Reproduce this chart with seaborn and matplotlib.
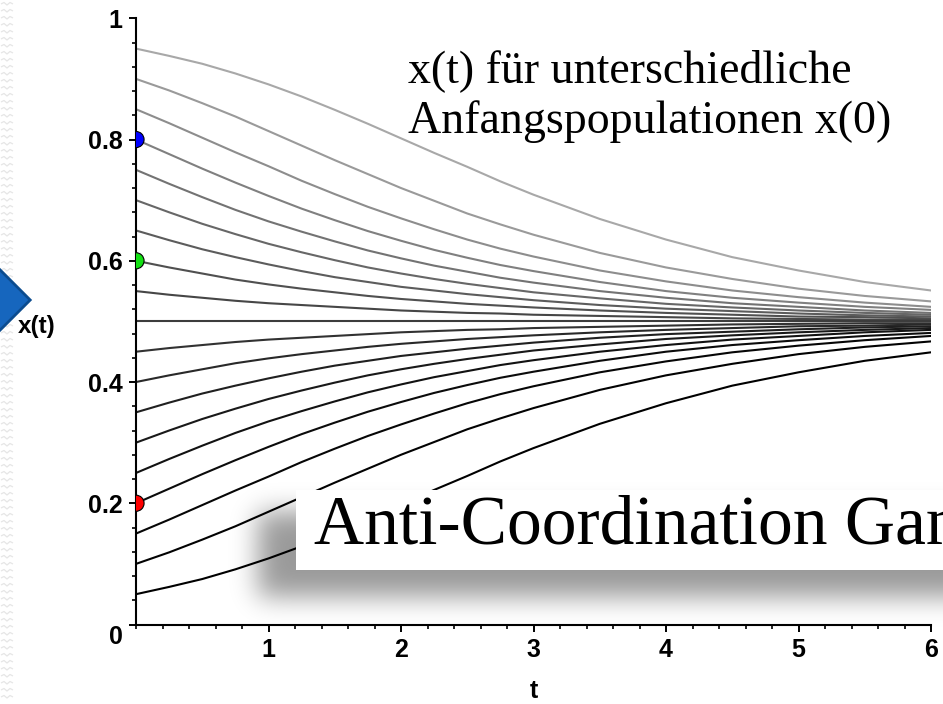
import numpy as np
import pandas as pd
import matplotlib
matplotlib.use("Agg")
import matplotlib.pyplot as plt
from matplotlib.patches import Polygon, Rectangle
from matplotlib.collections import LineCollection
from matplotlib.ticker import MultipleLocator
import seaborn as sns

# ---- data -------------------------------------------------------------
T = [0.0, 0.25, 0.5, 0.75, 1.0, 1.25, 1.5, 1.75, 2.0, 2.25, 2.5, 2.75,
     3.0, 3.5, 4.0, 4.5, 5.0, 5.5, 6.0]

x_095 = [0.950, 0.938, 0.925, 0.909, 0.891, 0.871, 0.849, 0.826, 0.802, 0.778, 0.755, 0.731, 0.709, 0.669, 0.635, 0.606, 0.584, 0.565, 0.551]
x_090 = [0.900, 0.881, 0.860, 0.838, 0.814, 0.790, 0.766, 0.743, 0.720, 0.699, 0.678, 0.660, 0.643, 0.613, 0.589, 0.570, 0.554, 0.542, 0.533]
x_085 = [0.850, 0.827, 0.803, 0.779, 0.756, 0.732, 0.710, 0.689, 0.670, 0.652, 0.635, 0.620, 0.607, 0.584, 0.566, 0.551, 0.540, 0.531, 0.524]
x_080 = [0.800, 0.776, 0.752, 0.729, 0.707, 0.686, 0.667, 0.649, 0.633, 0.618, 0.605, 0.593, 0.583, 0.565, 0.550, 0.539, 0.531, 0.524, 0.519]
x_075 = [0.750, 0.727, 0.705, 0.684, 0.665, 0.648, 0.632, 0.617, 0.604, 0.592, 0.582, 0.572, 0.564, 0.550, 0.539, 0.530, 0.524, 0.518, 0.514]
x_070 = [0.700, 0.680, 0.661, 0.644, 0.628, 0.614, 0.601, 0.589, 0.579, 0.570, 0.562, 0.555, 0.548, 0.538, 0.529, 0.523, 0.518, 0.514, 0.511]
x_065 = [0.650, 0.634, 0.619, 0.606, 0.594, 0.583, 0.573, 0.565, 0.557, 0.551, 0.545, 0.540, 0.535, 0.527, 0.521, 0.517, 0.513, 0.510, 0.508]
x_060 = [0.600, 0.589, 0.579, 0.569, 0.561, 0.554, 0.548, 0.542, 0.537, 0.533, 0.529, 0.526, 0.523, 0.518, 0.514, 0.511, 0.508, 0.507, 0.505]
x_055 = [0.550, 0.544, 0.539, 0.534, 0.530, 0.527, 0.524, 0.521, 0.518, 0.516, 0.514, 0.513, 0.511, 0.509, 0.507, 0.505, 0.504, 0.503, 0.503]
x_050 = [0.500, 0.500, 0.500, 0.500, 0.500, 0.500, 0.500, 0.500, 0.500, 0.500, 0.500, 0.500, 0.500, 0.500, 0.500, 0.500, 0.500, 0.500, 0.500]
x_045 = [0.450, 0.456, 0.461, 0.466, 0.470, 0.473, 0.476, 0.479, 0.482, 0.484, 0.486, 0.487, 0.489, 0.491, 0.493, 0.495, 0.496, 0.497, 0.497]
x_040 = [0.400, 0.411, 0.421, 0.431, 0.439, 0.446, 0.452, 0.458, 0.463, 0.467, 0.471, 0.474, 0.477, 0.482, 0.486, 0.489, 0.492, 0.493, 0.495]
x_035 = [0.350, 0.366, 0.381, 0.394, 0.406, 0.417, 0.427, 0.435, 0.443, 0.449, 0.455, 0.460, 0.465, 0.473, 0.479, 0.483, 0.487, 0.490, 0.492]
x_030 = [0.300, 0.320, 0.339, 0.356, 0.372, 0.386, 0.399, 0.411, 0.421, 0.430, 0.438, 0.445, 0.452, 0.462, 0.471, 0.477, 0.482, 0.486, 0.489]
x_025 = [0.250, 0.273, 0.295, 0.316, 0.335, 0.352, 0.368, 0.383, 0.396, 0.408, 0.418, 0.428, 0.436, 0.450, 0.461, 0.470, 0.476, 0.482, 0.486]
x_020 = [0.200, 0.224, 0.248, 0.271, 0.293, 0.314, 0.333, 0.351, 0.367, 0.382, 0.395, 0.407, 0.417, 0.435, 0.450, 0.461, 0.469, 0.476, 0.481]
x_015 = [0.150, 0.173, 0.197, 0.221, 0.244, 0.268, 0.290, 0.311, 0.330, 0.348, 0.365, 0.380, 0.393, 0.416, 0.434, 0.449, 0.460, 0.469, 0.476]
x_010 = [0.100, 0.119, 0.140, 0.162, 0.186, 0.210, 0.234, 0.257, 0.280, 0.301, 0.322, 0.340, 0.357, 0.387, 0.411, 0.430, 0.446, 0.458, 0.467]
x_005 = [0.050, 0.062, 0.075, 0.091, 0.109, 0.129, 0.151, 0.174, 0.198, 0.222, 0.245, 0.269, 0.291, 0.331, 0.365, 0.394, 0.416, 0.435, 0.449]

START_VALUES = [0.95, 0.90, 0.85, 0.80, 0.75, 0.70, 0.65, 0.60, 0.55, 0.50,
                0.45, 0.40, 0.35, 0.30, 0.25, 0.20, 0.15, 0.10, 0.05]
CURVES = [x_095, x_090, x_085, x_080, x_075, x_070, x_065, x_060, x_055, x_050,
          x_045, x_040, x_035, x_030, x_025, x_020, x_015, x_010, x_005]

# highlighted starting populations
MARK_T = [0.0, 0.0, 0.0]
MARK_X = [0.2, 0.6, 0.8]
MARK_NAMES = ["rot", "gruen", "blau"]
MARK_COLORS = {"rot": "#ff0000", "gruen": "#14e014", "blau": "#0000ff"}

X_TICKS = [1, 2, 3, 4, 5, 6]
X_TICK_LABELS = ["1", "2", "3", "4", "5", "6"]
Y_TICKS = [0.0, 0.2, 0.4, 0.6, 0.8, 1.0]
Y_TICK_LABELS = ["", "0.2", "0.4", "0.6", "0.8", "1"]

# ---- figure -------------------------------------------------------------
W, H = 943, 704
sns.set_style("ticks")
plt.rcParams["font.family"] = ["Liberation Sans", "DejaVu Sans"]
plt.rcParams["text.color"] = "black"
plt.rcParams["axes.labelcolor"] = "black"
plt.rcParams["xtick.color"] = "black"
plt.rcParams["ytick.color"] = "black"
SERIF = ["Liberation Serif", "DejaVu Serif"]

fig = plt.figure(figsize=(W / 100, H / 100), dpi=100)
fig.patch.set_facecolor("white")

AX_L, AX_R, AX_B, AX_T = 136.0, 931.0, 624.5, 18.3
ax = fig.add_axes([AX_L / W, 1 - AX_B / H, (AX_R - AX_L) / W, (AX_B - AX_T) / H])

rows = []
for x0, vals in zip(START_VALUES, CURVES):
    for t, v in zip(T, vals):
        rows.append({"t": t, "x": v, "x0": x0})
traj = pd.DataFrame(rows)


def shade(x0):
    g = 0.66 * ((x0 - 0.05) / 0.9) ** 1.5
    return (g, g, g)


palette = {x0: shade(x0) for x0 in START_VALUES}
sns.lineplot(data=traj, x="t", y="x", hue="x0", hue_order=START_VALUES,
             palette=palette, estimator=None, sort=True, legend=False,
             linewidth=1.5, ax=ax)

marks = pd.DataFrame({"t": MARK_T, "x": MARK_X, "name": MARK_NAMES})
sns.scatterplot(data=marks, x="t", y="x", hue="name", palette=MARK_COLORS,
                s=135, edgecolor="black", linewidth=0.8, legend=False,
                zorder=4, ax=ax)

ax.set_xlim(0, 6)
ax.set_ylim(0, 1)
for side in ("top", "right"):
    ax.spines[side].set_visible(False)
for side in ("left", "bottom"):
    ax.spines[side].set_linewidth(1.5)
    ax.spines[side].set_color("black")

ax.set_xticks(X_TICKS)
ax.set_xticklabels(X_TICK_LABELS, fontsize=18, fontweight="bold", color="black")
ax.set_yticks(Y_TICKS)
ax.set_yticklabels(Y_TICK_LABELS, fontsize=18, fontweight="bold", color="black")
ax.xaxis.set_minor_locator(MultipleLocator(0.2))
ax.yaxis.set_minor_locator(MultipleLocator(0.04))
ax.tick_params(which="major", direction="out", length=5, width=1.4, color="black")
ax.tick_params(which="minor", direction="out", length=3, width=1.2, color="black")
ax.tick_params(axis="x", which="major", pad=4.5)
ax.tick_params(axis="y", which="major", pad=4.5)

# shared origin label
ax.text((116 - AX_L) / (AX_R - AX_L), (AX_B - 637.5) / (AX_B - AX_T), "0",
        transform=ax.transAxes, ha="center", va="center",
        fontsize=18, fontweight="bold", color="black")

ax.set_xlabel("t", fontsize=18, fontweight="bold", color="black")
ax.xaxis.set_label_coords(0.5, (AX_B - 698) / (AX_B - AX_T))
ax.xaxis.label.set_va("baseline")
ax.set_ylabel("x(t)", rotation=0, fontsize=17.5, fontweight="bold", color="black")
ax.yaxis.set_label_coords((37 - AX_L) / (AX_R - AX_L), (AX_B - 326) / (AX_B - AX_T))
ax.yaxis.label.set_va("center")
ax.yaxis.label.set_ha("center")

# ---- slide decoration: overlay in pixel coordinates ---------------------
ov = fig.add_axes([0, 0, 1, 1], zorder=5)
ov.set_xlim(0, W)
ov.set_ylim(H, 0)
ov.axis("off")
ov.patch.set_alpha(0)

# faint paper texture along the left border
zig = []
for yy in np.arange(4, H, 7.0):
    zig.append([(1, yy), (4, yy - 1.5), (7, yy + 1.0), (10, yy - 1.5), (13, yy)])
ov.add_collection(LineCollection(zig, colors="#e6e6e6", linewidths=0.9, zorder=0))

# soft drop shadow behind the caption box
pad = 70
mask = np.zeros((H + 2 * pad, W + 2 * pad))
mask[512 + pad:597 + pad, 258 + pad:] = 1.0
sigma = 13.0
k = np.arange(-3 * int(sigma), 3 * int(sigma) + 1)
kern = np.exp(-0.5 * (k / sigma) ** 2)
kern /= kern.sum()
blur = np.apply_along_axis(lambda r: np.convolve(r, kern, mode="same"), 1, mask)
blur = np.apply_along_axis(lambda c: np.convolve(c, kern, mode="same"), 0, blur)
blur = blur[pad:pad + H, pad:pad + W]
rgba = np.zeros((H, W, 4))
rgba[..., 3] = 0.40 * blur
ov.imshow(rgba, extent=(0, W, H, 0), aspect="auto", interpolation="bilinear", zorder=1)

ov.add_patch(Rectangle((296, 490), W - 296 + 20, 80, facecolor="white",
                       edgecolor="none", zorder=2))
ov.text(314, 543, "Anti-Coordination Game", fontsize=50, family=SERIF,
        ha="left", va="baseline", color="black", zorder=3)

ov.text(408, 82, "x(t) für unterschiedliche", fontsize=33, family=SERIF,
        ha="left", va="baseline", color="black", zorder=3)
ov.text(408, 133, "Anfangspopulationen x(0)", fontsize=33, family=SERIF,
        ha="left", va="baseline", color="black", zorder=3)

# blue bullet on the left border
ov.add_patch(Polygon([(-25, 300 - 55.2), (30.2, 300), (-25, 300 + 55.2)],
                     closed=True, facecolor="#1666be", edgecolor="#0c4c8f",
                     linewidth=2.0, zorder=2))

fig.savefig("out.png", dpi=100, facecolor="white")
